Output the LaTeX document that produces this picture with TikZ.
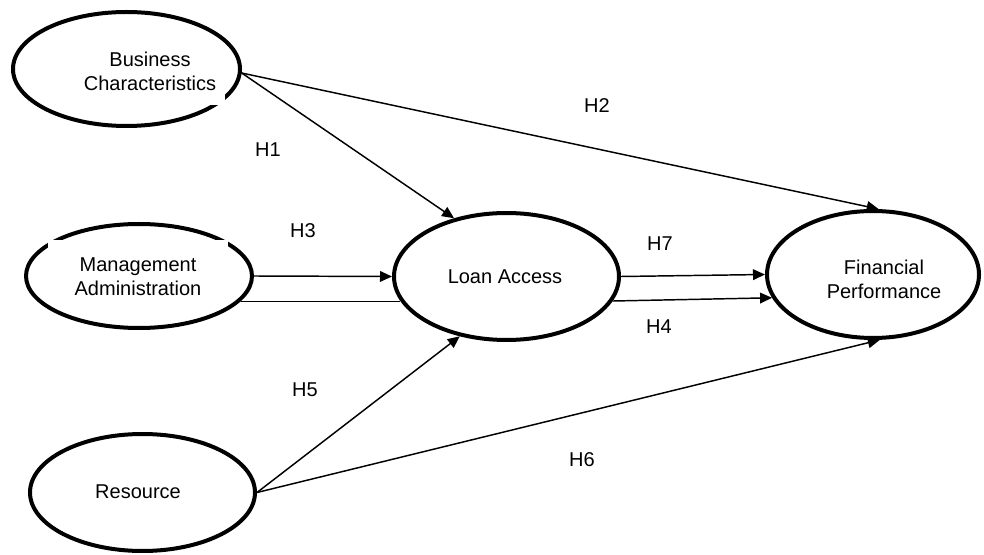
\documentclass[tikz,border=0pt]{standalone}
\usepackage{fontspec}
\setmainfont{Liberation Sans}
\usetikzlibrary{arrows.meta,shapes.geometric}
\begin{document}
\begin{tikzpicture}[x=0.75pt,y=-0.75pt,
  construct/.style={ellipse,draw=black,line width=3pt,inner sep=0pt},
  lbl/.style={font=\fontsize{15}{18}\selectfont,align=center,inner sep=0pt},
  link/.style={line width=1.1pt,-{Triangle[length=9pt,width=8pt]}},
  plainlink/.style={line width=1.1pt},
  gap/.style={fill=white,draw=none}]
\useasboundingbox (0,0) rectangle (984,555);
% constructs
\node[construct,minimum width=170.25pt,minimum height=85.5pt] (bc) at (126.5,69) {};
\node[construct,minimum width=169.5pt,minimum height=78pt] (ma) at (139,276) {};
\node[construct,minimum width=168.75pt,minimum height=95.25pt] (la) at (506.5,276.5) {};
\node[construct,minimum width=159pt,minimum height=95.25pt] (fp) at (873,274.5) {};
\node[construct,minimum width=168.75pt,minimum height=87.75pt] (rs) at (142.5,492.5) {};
% gaps in outlines
\fill[gap] (195,43) rectangle (225,105);
\fill[gap] (48,240) rectangle (228,300);
% texts
\node[lbl] (tbc) at (150,71) {Business\\Characteristics};
\node[lbl] (tma) at (138,277) {Management\\Administration};
\node[lbl] (tla) at (505,277) {Loan Access};
\node[lbl] (tfp) at (884,279) {Financial\\Performance};
\node[lbl] (trs) at (138,492) {Resource};
% connectors
\draw[link] (bc.-2) -- (la.132);
\draw[link] (bc.-2) -- (fp.85);
\draw[link] (ma.east) -- (la.west);
\draw[plainlink] (ma.-14) -- (ma.-14 -| la.193);
\draw[link] (la.east) -- (fp.west);
\draw[link] (la.-13) -- (fp.193);
\draw[link] (rs.east) -- (la.232);
\draw[link] (rs.east) -- (fp.-84);
% hypothesis labels
\node[lbl] (h1) at (268,150) {H1};
\node[lbl] (h2) at (597,106) {H2};
\node[lbl] (h3) at (303,231) {H3};
\node[lbl] (h7) at (660,244) {H7};
\node[lbl] (h4) at (659,327) {H4};
\node[lbl] (h5) at (305,390) {H5};
\node[lbl] (h6) at (582,460) {H6};
\end{tikzpicture}
\end{document}
